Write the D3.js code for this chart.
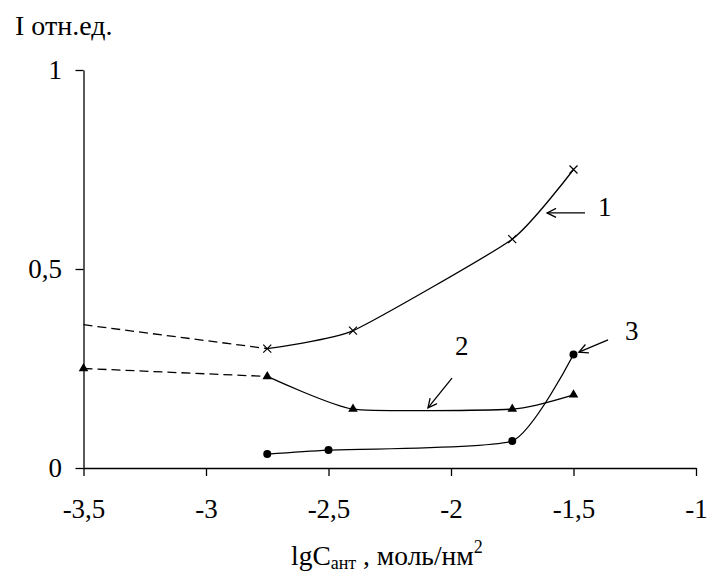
<!DOCTYPE html>
<html>
<head>
<meta charset="utf-8">
<script src="https://cdn.jsdelivr.net/npm/d3@7"></script>
<style>
  body { margin: 0; background: #fff; }
</style>
</head>
<body>
<div id="chart-area"><svg></svg></div>
<script>
const chartSize = { width: 707, height: 574 };
const serif = "'Liberation Serif', 'Times New Roman', serif";

// data
const xTicks = [-3.5, -3, -2.5, -2, -1.5, -1];
const yTicks = [0, 0.5, 1];

const curve1X = [-2.75, -2.4, -1.75, -1.5];
const curve1Y = [0.30, 0.345, 0.575, 0.75];
const curve1Dash = [[-3.5, 0.36], [-2.75, 0.30]];

const curve2X = [-2.75, -2.4, -1.75, -1.5];
const curve2Y = [0.23, 0.148, 0.148, 0.184];
const curve2Dash = [[-3.5, 0.25], [-2.75, 0.23]];

const curve3X = [-2.75, -2.5, -1.75, -1.5];
const curve3Y = [0.035, 0.045, 0.068, 0.285];

// curve number labels: [label, textX, textY, arrowFromX, arrowFromY, arrowToX, arrowToY]
const callouts = [
    ["1", -1.40, 0.633, -1.453, 0.641, -1.608, 0.641],
    ["2", -1.984, 0.284, -1.996, 0.226, -2.094, 0.151],
    ["3", -1.29, 0.322, -1.359, 0.322, -1.478, 0.291]
];

const commaFormat = d => String(d).replace(".", ",");

const x = d3.scaleLinear().domain([-3.5, -1]).range([83.5, 696]);
const y = d3.scaleLinear().domain([0, 1]).range([468, 70]);

const svg = d3.select("#chart-area svg")
    .attr("width", chartSize.width)
    .attr("height", chartSize.height)
    .attr("font-family", serif);

svg.append("defs").append("marker")
    .attr("id", "arrow")
    .attr("viewBox", "-10 -5 12 10")
    .attr("refX", 0).attr("refY", 0)
    .attr("markerWidth", 12).attr("markerHeight", 10)
    .attr("markerUnits", "userSpaceOnUse")
    .attr("orient", "auto")
    .append("path")
    .attr("d", "M-9,-4.5L0,0L-9,4.5")
    .attr("fill", "none")
    .attr("stroke", "#000")
    .attr("stroke-width", 1.3);

// axes
const yAxis = d3.axisLeft(y).tickValues(yTicks).tickSize(8).tickSizeOuter(0)
    .tickPadding(13.5).tickFormat(commaFormat);
const yG = svg.append("g").attr("transform", `translate(${x(-3.5)},0)`).call(yAxis);

const xAxis = d3.axisBottom(x).tickValues(xTicks).tickSize(8).tickSizeOuter(0)
    .tickFormat(commaFormat);
const xG = svg.append("g").attr("transform", `translate(0,${y(0)})`).call(xAxis);

[yG, xG].forEach(g => {
    g.attr("font-family", serif).attr("font-size", 27);
    g.selectAll("path, line").attr("stroke", "#000").attr("stroke-width", 1.3);
    g.selectAll("text").attr("fill", "#000");
});
xG.selectAll("text").attr("y", 50).attr("dy", null);

svg.append("text")
    .attr("x", 15).attr("y", 35)
    .attr("font-size", 28)
    .text("I отн.ед.");

const xLabel = svg.append("text")
    .attr("x", 291).attr("y", 565)
    .attr("font-size", 27.5);
xLabel.append("tspan").text("lgC");
xLabel.append("tspan").attr("font-size", 18).attr("dy", 4).text("ант");
xLabel.append("tspan").attr("dy", -4).text(" , моль/нм");
xLabel.append("tspan").attr("font-size", 18).attr("dy", -12).text("2");

// curves
const smooth = d3.line().x(d => x(d[0])).y(d => y(d[1])).curve(d3.curveCardinal.tension(0.5));
const straight = d3.line().x(d => x(d[0])).y(d => y(d[1]));

const zip = (xs, ys) => xs.map((v, i) => [v, ys[i]]);
const pts1 = zip(curve1X, curve1Y);
const pts2 = zip(curve2X, curve2Y);
const pts3 = zip(curve3X, curve3Y);

const plot = svg.append("g");

[curve1Dash, curve2Dash].forEach(p => {
    plot.append("path").attr("d", straight(p))
        .attr("fill", "none").attr("stroke", "#000").attr("stroke-width", 1.3)
        .attr("stroke-dasharray", "9,5");
});

[pts1, pts2, pts3].forEach(p => {
    plot.append("path").attr("d", smooth(p))
        .attr("fill", "none").attr("stroke", "#000").attr("stroke-width", 1.3);
});

plot.selectAll(".cross").data(pts1).join("path")
    .attr("class", "cross")
    .attr("transform", d => `translate(${x(d[0])},${y(d[1])})`)
    .attr("d", "M-4,-4L4,4M-4,4L4,-4")
    .attr("stroke", "#000").attr("stroke-width", 1.2);

plot.selectAll(".tri").data(pts2.concat([curve2Dash[0]])).join("path")
    .attr("class", "tri")
    .attr("transform", d => `translate(${x(d[0])},${y(d[1])})`)
    .attr("d", d3.symbol(d3.symbolTriangle, 40));

plot.selectAll(".dot").data(pts3).join("circle")
    .attr("class", "dot")
    .attr("cx", d => x(d[0])).attr("cy", d => y(d[1]))
    .attr("r", 4);

// callouts
callouts.forEach(([label, tx, ty, ax0, ay0, ax1, ay1]) => {
    svg.append("line")
        .attr("x1", x(ax0)).attr("y1", y(ay0))
        .attr("x2", x(ax1)).attr("y2", y(ay1))
        .attr("stroke", "#000").attr("stroke-width", 1.3)
        .attr("marker-end", "url(#arrow)");
    svg.append("text")
        .attr("x", x(tx)).attr("y", y(ty))
        .attr("font-size", 27)
        .text(label);
});
</script>
</body>
</html>
